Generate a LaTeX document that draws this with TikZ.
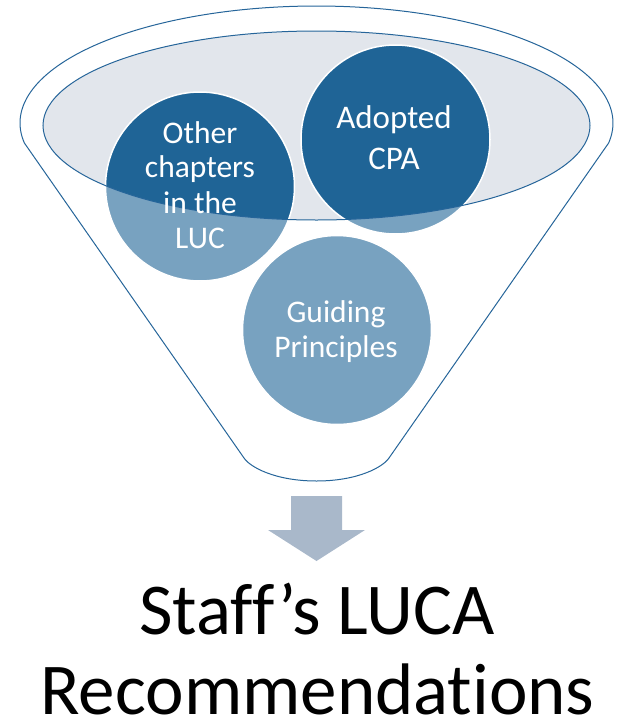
\documentclass[tikz,border=0pt]{standalone}
\usepackage{fontspec}
\setmainfont{Carlito}[Ligatures={NoCommon,NoRequired,NoContextual}]
\definecolor{darkblue}{HTML}{1F6496}
\definecolor{lineblue}{HTML}{26659A}
\definecolor{ellgrey}{HTML}{E2E6EC}
\definecolor{arrowgrey}{HTML}{A9B8CA}
\begin{document}
\begin{tikzpicture}[x=1pt,y=-1pt,
  bubble/.style={circle, fill=darkblue, draw=white, line width=1.5pt, minimum size=189pt, inner sep=0pt},
  bubtext/.style={text=white, anchor=base, inner sep=0pt, font=\fontsize{31.5}{35}\selectfont},
  bigbubtext/.style={bubtext, font=\fontsize{33}{40}\selectfont},
  outline/.style={draw=lineblue, line width=1pt},
  bigtext/.style={anchor=base, inner sep=0pt, text depth=0pt, text=black, font=\fontsize{73}{80}\selectfont}]
\useasboundingbox (0,0) rectangle (621,720);
% inner ellipse fill
\fill[ellgrey] (316.5,125.5) ellipse [x radius=273.5pt, y radius=94.5pt];
% circles
\node[bubble] (other) at (200,186.5) {};
\node[bubble] (cpa) at (395.5,139.5) {};
\node[bubble] (guide) at (337,330) {};
% translucent front of the funnel
\fill[white, fill opacity=0.4, even odd rule] (0,0) rectangle (621,490)
  (316.5,125.5) ellipse [x radius=273.5pt, y radius=94.5pt];
% inner ellipse outline
\draw[outline] (316.5,125.5) ellipse [x radius=273.5pt, y radius=94.5pt];
% funnel outline
\draw[outline] plot[domain=-9.84:189.84, samples=150] ({316.5+296.5*cos(\x)},{123-117*sin(\x)})
  -- (244,458) .. controls (250,467) and (275,481) .. (316.5,481)
  .. controls (358,481) and (383,467) .. (389,458) -- cycle;
% texts in circles
\node[bubtext] (o1) at (200,143) {Other};
\node[bubtext] (o2) at (200,177) {chapters};
\node[bubtext] (o3) at (200,213) {in the};
\node[bubtext] (o4) at (200,248) {LUC};
\node[bigbubtext] (a1) at (394,128) {Adopted};
\node[bigbubtext] (a2) at (394,169) {CPA};
\node[bubtext] (g1) at (336,322) {Guiding};
\node[bubtext] (g2) at (336,357) {Principles};
% down arrow
\fill[arrowgrey] (291,496) -- (342,496) -- (342,530) -- (365,530) -- (316.5,561)
  -- (268,530) -- (291,530) -- cycle;
% result text
\node[bigtext] (t1) at (317,634) {Staff’s LUCA};
\node[bigtext] (t2) at (317.5,714) {Recommendations};
\end{tikzpicture}
\end{document}
